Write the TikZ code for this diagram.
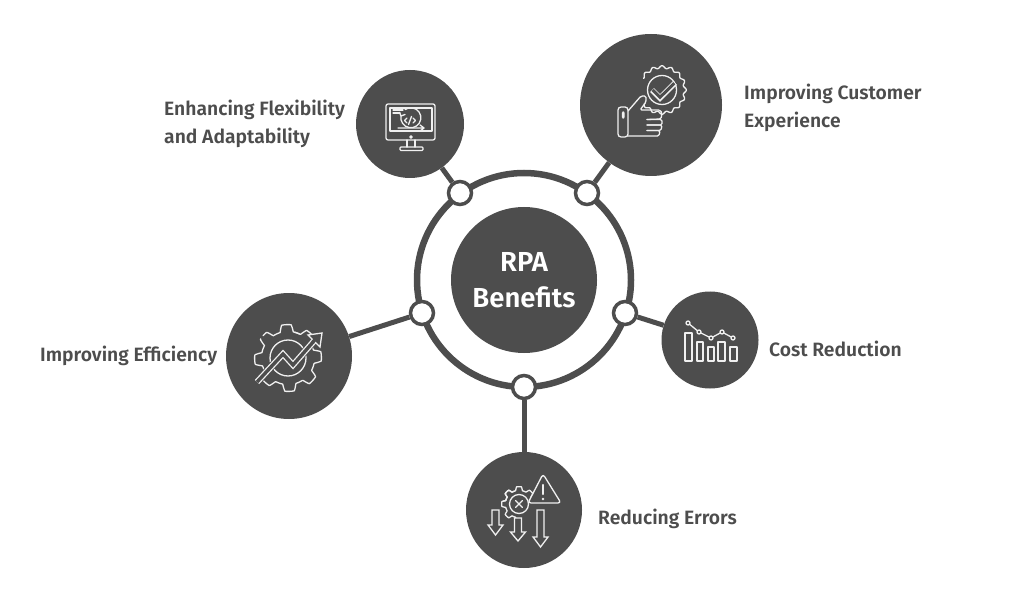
\documentclass[tikz,border=0pt]{standalone}
\usepackage{fontspec}
\setmainfont{Fira Sans}[UprightFont=* Medium,BoldFont=* SemiBold]
\definecolor{slate}{HTML}{4D4D4D}
\definecolor{paleline}{HTML}{F0F0F0}
\tikzset{
  hub/.style={circle,fill=slate,inner sep=0pt,minimum size=146pt,text=white,align=center,font=\bfseries\fontsize{27.5}{36}\selectfont},
  ringshape/.style={circle,draw=slate,line width=6.5pt,inner sep=0pt,minimum size=214pt},
  joint/.style={circle,draw=slate,fill=white,line width=3.5pt,inner sep=0pt,minimum size=23pt},
  topic/.style={circle,fill=slate,inner sep=0pt},
  conn/.style={draw=slate,line width=5pt},
  caption/.style={anchor=west,inner sep=0pt,text=slate,align=left,font=\bfseries\fontsize{19.3}{28}\selectfont},
  icon/.style={draw=paleline,line width=1.3pt,line join=round,line cap=round},
  knock/.style={draw=slate,line width=7.5pt,line join=miter,line cap=butt},
  band/.style={draw=paleline,line width=6pt,line join=miter,line cap=butt},
  hollow/.style={draw=slate,line width=3.4pt,line join=miter,line cap=butt}
}
\begin{document}
\begin{tikzpicture}[x=1pt,y=-1pt]
\useasboundingbox (0,0) rectangle (1024,601);

% ring, hub and the five topic discs
\node[ringshape] (ring) at (524,280) {};
\node[hub] (hub) at (524,280) {RPA\\Benefits};
\node[topic,minimum size=108pt] (flex) at (410,124) {};
\node[topic,minimum size=142pt] (cust) at (651,105) {};
\node[topic,minimum size=126pt] (effi) at (289,356) {};
\node[topic,minimum size=97pt] (cost) at (710,340) {};
\node[topic,minimum size=116pt] (errs) at (524,510) {};

% joints sitting on the ring
\node[joint] (jflex) at (460,193) {};
\node[joint] (jcust) at (587,193) {};
\node[joint] (jeffi) at (422,313) {};
\node[joint] (jcost) at (625,313) {};
\node[joint] (jerrs) at (524,387) {};

% spokes
\draw[conn] (flex) -- (jflex);
\draw[conn] (cust) -- (jcust);
\draw[conn] (effi) -- (jeffi);
\draw[conn] (cost) -- (jcost);
\draw[conn] (errs) -- (jerrs);

% captions
\node[caption] (tflex) at (164,123.5) {Enhancing Flexibility\\and Adaptability};
\node[caption] (tcust) at (744,107.5) {Improving Customer\\Experience};
\node[caption] (teffi) at (40,356) {Improving Efficiency};
\node[caption] (tcost) at (769,349) {Cost Reduction};
\node[caption] (terrs) at (598,519) {Reducing Errors};

% monitor icon
\begin{scope}[icon]
\draw[rounded corners=2pt] (386,104) rectangle (435,140);
\draw (390,108) -- (432,108) -- (432,131) -- (390,131) -- cycle;
\draw (393,110) -- (403,110) (393,113) -- (400,113);
\draw (401,116) arc[start angle=190,end angle=-125,radius=10];
\draw (401,116) -- (399.5,112.5) (401,116) -- (405,114.5);
\draw (398,128) -- (424,128) (420,125) -- (424,128) -- (420,131);
\draw (407,118) -- (404.5,120.5) -- (407,123) (413,118) -- (415.5,120.5) -- (413,123) (411.5,116.5) -- (408.5,124.5);
\draw (411,137) circle[radius=1.2];
\draw (407,140) -- (407,147) (415,140) -- (415,147);
\draw[rounded corners=1pt] (400,147) rectangle (423,150.5);
\end{scope}

% thumbs-up with rosette icon
\begin{scope}[icon]
\draw[rounded corners=3pt] (618,107) rectangle (628,137);
\draw[rounded corners=1pt] (622.5,112) rectangle (624,118);
\draw[rounded corners=1.5pt] (628,111) -- (641,96) -- (646,96) -- (646,102) -- (640,110) -- (660,110) -- (662,113) -- (661,119) -- (647,119.5);
\draw[rounded corners=1.5pt] (647,119.5) -- (662,119.5) -- (662,125) -- (647,125);
\draw[rounded corners=1.5pt] (647,125) -- (662,125) -- (661,130.5) -- (647,130.5);
\draw[rounded corners=1.5pt] (647,130.5) -- (660,130.5) -- (659,136) -- (628,136);
\begin{scope}[shift={(662,90)}]
\draw plot[domain=-148:142,samples=200,smooth] ({(23+1.3*cos(16*\x))*cos(\x)},{(23+1.3*cos(16*\x))*sin(\x)});
\draw (0,0) circle[radius=14.5];
\draw[band,line width=5.5pt] (-10,0) -- (-2,8) -- (13,-7);
\draw[hollow,line width=3pt] (-9.3,0) -- (-2,7.3) -- (12.3,-6.7);
\end{scope}
\end{scope}

% gear with rising arrow icon
\begin{scope}[icon,shift={(288,358)}]
\draw plot[domain=-75:215,samples=200] ({(30+3.4*max(-1,min(1,2.4*cos(8*\x+22.5))))*cos(\x)},{(30+3.4*max(-1,min(1,2.4*cos(8*\x+22.5))))*sin(\x)});
\draw plot[domain=-138:-65,samples=60] ({(30+3.4*max(-1,min(1,2.4*cos(8*\x+22.5))))*cos(\x)},{(30+3.4*max(-1,min(1,2.4*cos(8*\x+22.5))))*sin(\x)});
\draw (0,0) circle[radius=18];
\path[knock] (-31,24) -- (-5,-4) -- (5,7) -- (26,-17);
\path[band] (-31,24) -- (-5,-4) -- (5,7) -- (26,-17);
\path[hollow] (-31,24) -- (-5,-4) -- (5,7) -- (26,-17);
\draw[line join=miter,fill=slate] (20,-23) -- (34,-25) -- (32,-11) -- cycle;
\draw[draw=slate,line width=3.4pt,line cap=butt] (24.5,-15.5) -- (27.5,-19);
\end{scope}

% bar chart with trend line icon
\begin{scope}[icon]
\draw (685,333) rectangle (692,361);
\draw (697,342) rectangle (703,361);
\draw (708,347) rectangle (714,361);
\draw (718,342) rectangle (725,361);
\draw (730,347) rectangle (737,361);
\draw (688,323) -- (699,332) -- (711,338) -- (722,332) -- (733,338);
\foreach \px/\py in {688/323,699/332,711/338,722/332,733/338}
  \draw[fill=slate] (\px,\py) circle[radius=2];
\end{scope}

% gear, warning sign and falling arrows icon
\begin{scope}[icon]
\begin{scope}[shift={(519,504)}]
\draw plot[domain=-170:-10,samples=110] ({(15.5+1.8*max(-1,min(1,2.4*cos(8*\x))))*cos(\x)},{(15.5+1.8*max(-1,min(1,2.4*cos(8*\x))))*sin(\x)});
\draw plot[domain=90:250,samples=110] ({(15.5+1.8*max(-1,min(1,2.4*cos(8*\x))))*cos(\x)},{(15.5+1.8*max(-1,min(1,2.4*cos(8*\x))))*sin(\x)});
\draw (0,0) circle[radius=9.5];
\draw (-3.5,-3.5) -- (3.5,3.5) (-3.5,3.5) -- (3.5,-3.5);
\end{scope}
\draw[fill=slate,rounded corners=3pt] (543,474) -- (561,503) -- (528,503) -- cycle;
\draw[line width=2.2pt] (543,485) -- (543,494);
\fill[paleline] (543,499) circle[radius=1.4];
\draw[fill=slate,line join=miter] (492,510) -- (499,510) -- (499,525) -- (503,525) -- (495.5,535) -- (488,525) -- (492,525) -- cycle;
\draw[fill=slate,line join=miter] (514.5,518) -- (521.5,518) -- (521.5,532) -- (525.5,532) -- (518,541) -- (510.5,532) -- (514.5,532) -- cycle;
\draw[fill=slate,line join=miter] (537,510) -- (544,510) -- (544,537) -- (548,537) -- (540.5,547) -- (533,537) -- (537,537) -- cycle;
\end{scope}
\end{tikzpicture}
\end{document}
